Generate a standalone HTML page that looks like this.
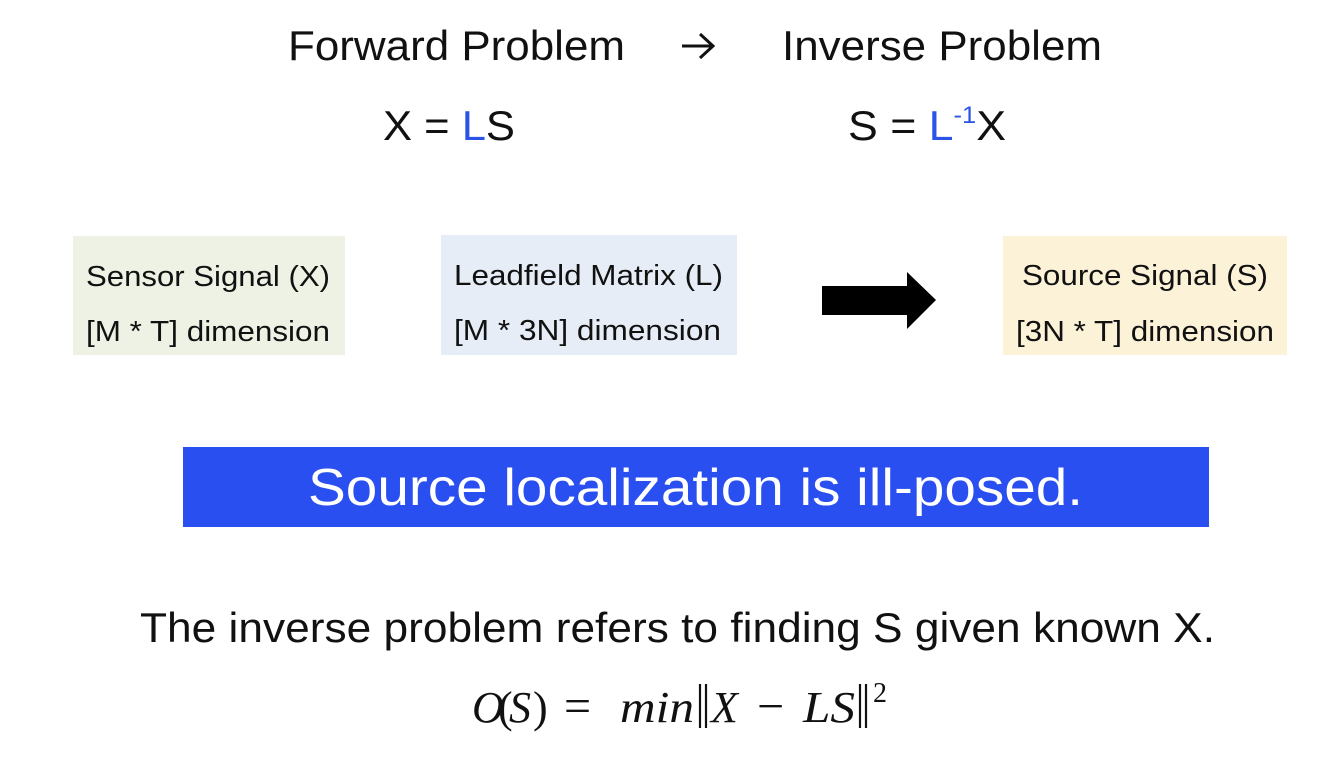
<!DOCTYPE html>
<html><head><meta charset="utf-8"><style>html,body{margin:0;padding:0;background:#fff}svg{display:block}</style></head>
<body>
<svg width="1336" height="778" viewBox="0 0 1336 778" xmlns="http://www.w3.org/2000/svg" font-family="Liberation Sans, sans-serif">
<rect width="1336" height="778" fill="#fff"/>
<text x="288" y="60" font-size="42" textLength="337" lengthAdjust="spacingAndGlyphs" fill="#111">Forward Problem</text>
<path d="M682 46 H712 M700 34 L713 46 L700 58" stroke="#111" stroke-width="3" fill="none"/>
<text x="782" y="60" font-size="42" textLength="320" lengthAdjust="spacingAndGlyphs" fill="#111">Inverse Problem</text>
<text x="383" y="140" font-size="42" fill="#111" textLength="132" lengthAdjust="spacingAndGlyphs">X = <tspan fill="#2b53e6">L</tspan>S</text>
<text x="848" y="140" font-size="42" fill="#111" textLength="158" lengthAdjust="spacingAndGlyphs">S = <tspan fill="#2b53e6">L</tspan><tspan fill="#2b53e6" font-size="24" dy="-17">-1</tspan><tspan dy="17">X</tspan></text>

<rect x="73" y="236" width="272" height="119" fill="#eef2e5"/>
<rect x="441" y="235" width="296" height="120" fill="#e6edf6"/>
<rect x="1003" y="236" width="284" height="119" fill="#fcf2d7"/>
<g font-size="29" fill="#111">
<text x="86" y="286" textLength="244" lengthAdjust="spacingAndGlyphs">Sensor Signal (X)</text>
<text x="86" y="341" textLength="244" lengthAdjust="spacingAndGlyphs">[M * T] dimension</text>
<text x="454" y="285" textLength="269" lengthAdjust="spacingAndGlyphs">Leadfield Matrix (L)</text>
<text x="454" y="340" textLength="267" lengthAdjust="spacingAndGlyphs">[M * 3N] dimension</text>
<text x="1022" y="285" textLength="246" lengthAdjust="spacingAndGlyphs">Source Signal (S)</text>
<text x="1016" y="341" textLength="258" lengthAdjust="spacingAndGlyphs">[3N * T] dimension</text>
</g>
<polygon points="822,286 907,286 907,272 936,300 907,329 907,315 822,315" fill="#000"/>

<rect x="183" y="447" width="1026" height="80" fill="#2a4ff0"/>
<text x="308" y="505" font-size="52" fill="#fff" textLength="775" lengthAdjust="spacingAndGlyphs">Source localization is ill-posed.</text>

<text x="140" y="642" font-size="42" fill="#111" textLength="1075" lengthAdjust="spacingAndGlyphs">The inverse problem refers to finding S given known X.</text>
<g font-family="Liberation Serif, serif" font-size="44" fill="#111">
<text x="472" y="722" font-style="italic">O</text>
<text x="498" y="722">(</text>
<text x="509" y="722" font-style="italic">S</text>
<text x="533" y="722">)</text>
<text x="564" y="722" font-size="48">=</text>
<text x="620" y="722" font-style="italic" textLength="74" lengthAdjust="spacingAndGlyphs">min</text>
<text x="711" y="722" font-style="italic">X</text>
<text x="757" y="722" font-size="48">−</text>
<text x="803" y="722" font-style="italic" textLength="52" lengthAdjust="spacingAndGlyphs">LS</text>
<text x="873" y="702" font-size="28">2</text>
</g>
<g stroke="#111" stroke-width="2.2">
<line x1="700" y1="684" x2="700" y2="728"/><line x1="706" y1="684" x2="706" y2="728"/>
<line x1="860" y1="684" x2="860" y2="728"/><line x1="866" y1="684" x2="866" y2="728"/>
</g>
</svg>
</body></html>
